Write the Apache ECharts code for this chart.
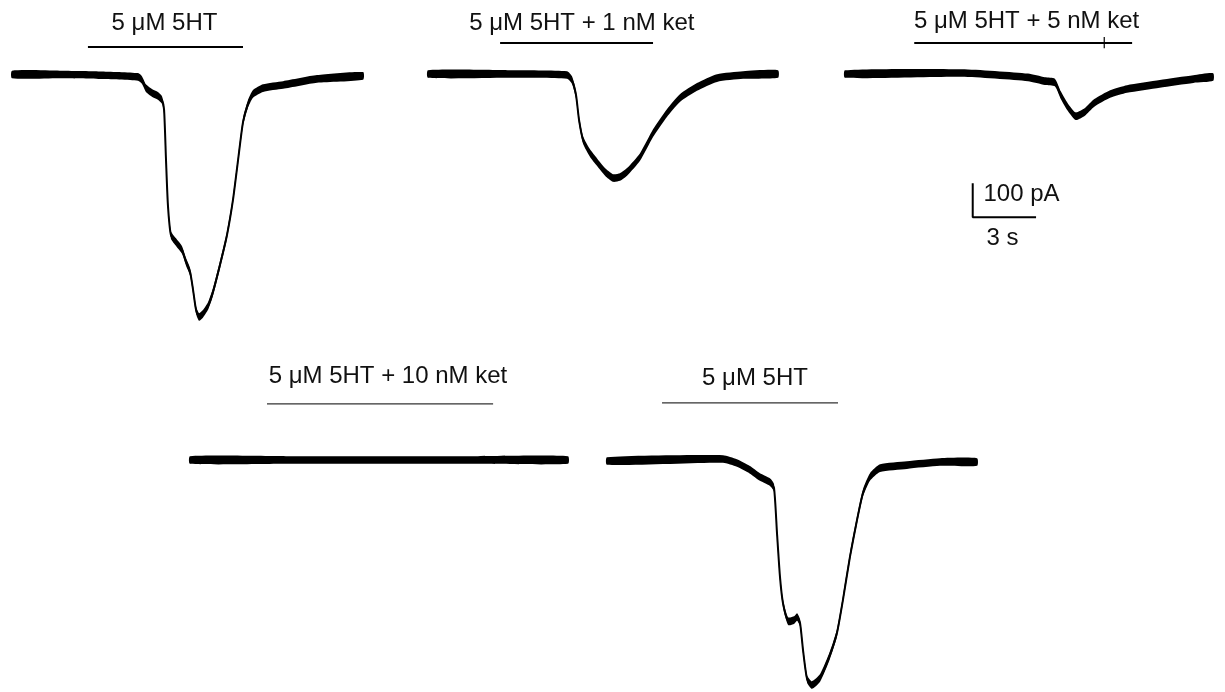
<!DOCTYPE html>
<html>
<head>
<meta charset="utf-8">
<title>5HT-evoked currents and ketanserin block</title>
<script src="https://cdn.jsdelivr.net/npm/echarts@6/dist/echarts.min.js"></script>
<style>
  html, body { margin: 0; padding: 0; background: #ffffff; }
  #chart { width: 1225px; height: 692px; }
</style>
</head>
<body>
<div id="chart"></div>
<script>
// ---- Recorded current traces (time in s, current in pA, 0 = holding baseline) ----
const trace1Time    = [0, 2.25, 4.13, 5.91, 6.09, 6.28, 6.56, 6.84, 7.03, 7.13, 7.22, 7.31, 7.45, 7.69, 7.97, 8.16, 8.35, 8.49, 8.63, 8.77, 8.95, 9.19, 9.42, 9.75, 10.08, 10.36, 10.60, 10.83, 11.06, 11.30, 11.77, 12.71, 14.30, 16.46];
const trace1Current = [0, 0, -2, -7, -16, -40, -54, -63, -75, -104, -251, -384, -472, -493, -516, -551, -581, -634, -693, -713, -704, -681, -640, -560, -472, -369, -251, -140, -87, -57, -40, -31, -13, -4];

const trace2Time    = [0, 3.84, 6.52, 6.75, 6.94, 7.08, 7.27, 7.59, 7.92, 8.30, 8.67, 9.00, 9.33, 9.94, 10.55, 11.20, 11.81, 12.61, 13.55, 14.77, 16.41];
const trace2Current = [0, 0, -3, -18, -62, -135, -194, -232, -259, -288, -306, -303, -288, -244, -174, -115, -71, -38, -12, -3, 0];

const trace3Time    = [0, 5.53, 8.67, 9.47, 9.94, 10.22, 10.55, 10.92, 11.35, 11.81, 12.56, 13.36, 14.91, 16.50, 17.44];
const trace3Current = [0, 3, -10, -21, -25, -62, -97, -124, -112, -85, -59, -44, -29, -15, -9];

const trace4Time    = [0, 4.5, 9.0, 13.5, 17.72];
const trace4Current = [0, 0, 0, 0, 0];

const trace5Time    = [0, 5.44, 6.09, 6.70, 7.17, 7.64, 7.83, 7.97, 8.11, 8.25, 8.49, 8.77, 8.91, 9.05, 9.19, 9.38, 9.61, 9.99, 10.45, 10.78, 11.06, 11.39, 11.72, 12.00, 12.33, 12.80, 14.06, 15.61, 17.35];
const trace5Current = [0, 6, -6, -26, -47, -62, -79, -212, -341, -418, -471, -468, -459, -476, -556, -641, -659, -638, -571, -506, -409, -282, -174, -94, -47, -21, -12, -3, -3];

// ---- Drug application periods (start s, end s) and their labels ----
const drugLabels  = ['5 \u03bcM 5HT', '5 \u03bcM 5HT + 1 nM ket', '5 \u03bcM 5HT + 5 nM ket', '5 \u03bcM 5HT + 10 nM ket', '5 \u03bcM 5HT'];
const drugStart   = [3.56, 3.38, 3.28, 3.61, 2.58];
const drugEnd     = [10.83, 10.55, 13.60, 14.21, 10.83];
const drugBarLevel   = [81, 91, 91, 165, 171];   // pA above baseline
const drugLabelTime  = [7.15, 7.21, 8.60, 9.28, 6.94];
const drugLabelLevel = [150, 149, 155, 246, 243];
const markTime = [12.28];          // event mark on the 5 nM ket bar
const markSpan = [76, 109];

// ---- Scale bar (drawn in the 5 nM ket panel) ----
const scaleCurrent = 100;          // pA
const scaleTime = 3;               // s
const scaleOrigin = [6.05, -421];  // s, pA
const scaleLabels = ['100 pA', '3 s'];

// ---- Layout ----
const PX_PER_S = 21.33;
const PX_PER_PA = 0.34;
const X_MAX = 18, Y_MAX = 200, Y_MIN = -600;
const panelOrigin = [[12, 74.5], [428, 74], [845, 74], [190, 460], [607, 461]];
const BAND_HALF = 3.8;
const FONT = '"Liberation Sans", Arial, Helvetica, sans-serif';

const traces = [
  [trace1Time, trace1Current],
  [trace2Time, trace2Current],
  [trace3Time, trace3Current],
  [trace4Time, trace4Current],
  [trace5Time, trace5Current]
];

const grids = [], xAxes = [], yAxes = [], series = [];

panelOrigin.forEach(function (o, i) {
  grids.push({
    left: o[0],
    top: o[1] - Y_MAX * PX_PER_PA,
    width: X_MAX * PX_PER_S,
    height: (Y_MAX - Y_MIN) * PX_PER_PA
  });
  xAxes.push({ gridIndex: i, type: 'value', min: 0, max: X_MAX, show: false });
  yAxes.push({ gridIndex: i, type: 'value', min: Y_MIN, max: Y_MAX, show: false });
});

// noisy current trace: filled band around the recorded values
function traceSeries(i) {
  const t = traces[i][0], c = traces[i][1];
  const data = t.map(function (v, k) { return [v, c[k]]; });
  return {
    type: 'custom',
    xAxisIndex: i, yAxisIndex: i,
    data: data,
    clip: false,
    silent: true,
    renderItem: function (params, api) {
      if (params.dataIndex !== 0) return null;
      const pts = data.map(function (d) { return api.coord(d); });
      const upper = pts.map(function (p) { return [p[0], p[1] - BAND_HALF]; });
      const lower = pts.map(function (p) { return [p[0], p[1] + BAND_HALF]; }).reverse();
      return {
        type: 'group',
        children: [
          { type: 'polygon', shape: { points: upper.concat(lower), smooth: 0.2 }, style: { fill: '#000' } },
          { type: 'polyline', shape: { points: pts, smooth: 0.2 }, style: { stroke: '#000', lineWidth: 2, fill: null } }
        ]
      };
    }
  };
}

function segmentSeries(i, pts, width, color) {
  return {
    type: 'line',
    xAxisIndex: i, yAxisIndex: i,
    data: pts,
    symbol: 'none',
    clip: false,
    silent: true,
    lineStyle: { color: color, width: width, cap: 'butt' }
  };
}

function textSeries(i, items, align) {
  return {
    type: 'custom',
    xAxisIndex: i, yAxisIndex: i,
    data: items,
    clip: false,
    silent: true,
    renderItem: function (params, api) {
      const d = items[params.dataIndex];
      const p = api.coord([d[0], d[1]]);
      return {
        type: 'text',
        x: p[0], y: p[1],
        style: {
          text: d[2],
          font: '24px ' + FONT,
          fill: '#111',
          align: align,
          verticalAlign: 'middle'
        }
      };
    }
  };
}

for (let i = 0; i < traces.length; i++) {
  series.push(traceSeries(i));
  const barColor = i < 3 ? '#000' : '#333';
  const barWidth = i < 3 ? 2 : 1.4;
  series.push(segmentSeries(i, [[drugStart[i], drugBarLevel[i]], [drugEnd[i], drugBarLevel[i]]], barWidth, barColor));
  series.push(textSeries(i, [[drugLabelTime[i], drugLabelLevel[i], drugLabels[i]]], 'center'));
}

// event mark across the 5 nM ket application bar
series.push(segmentSeries(2, [[markTime[0], markSpan[0]], [markTime[0], markSpan[1]]], 1.2, '#000'));

// scale bar
series.push(segmentSeries(2, [
  [scaleOrigin[0], scaleOrigin[1] + scaleCurrent],
  [scaleOrigin[0], scaleOrigin[1]],
  [scaleOrigin[0] + scaleTime, scaleOrigin[1]]
], 2, '#000'));
series.push(textSeries(2, [
  [scaleOrigin[0] + 0.51, scaleOrigin[1] + 67, scaleLabels[0]],
  [scaleOrigin[0] + 0.65, scaleOrigin[1] - 63, scaleLabels[1]]
], 'left'));

const chart = echarts.init(document.getElementById('chart'));
chart.setOption({
  backgroundColor: '#ffffff',
  animation: false,
  grid: grids,
  xAxis: xAxes,
  yAxis: yAxes,
  series: series
});
</script>
</body>
</html>
